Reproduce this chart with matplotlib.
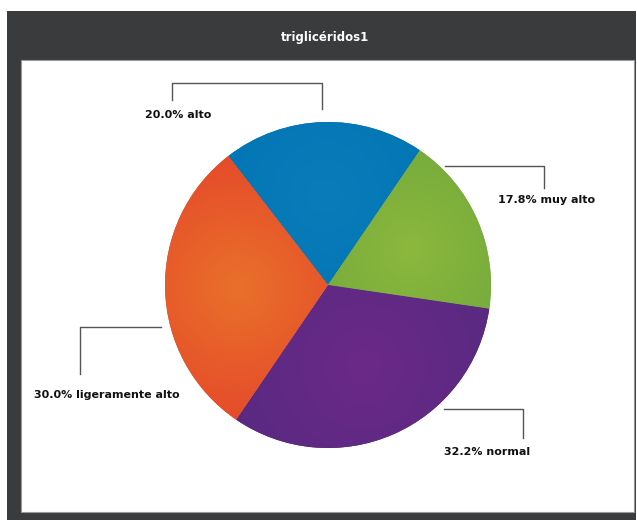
import numpy as np
import matplotlib
matplotlib.use("Agg")
import matplotlib.pyplot as plt
from matplotlib.patches import Rectangle
from matplotlib.colors import to_rgb

# Triglyceride categories, in clockwise order starting from the blue slice
categories = ["alto", "muy alto", "normal", "ligeramente alto"]
percentages = [20.0, 17.8, 32.2, 30.0]
inner_colors = ["#0a7cba", "#8cb83c", "#6b2a88", "#e9702a"]
outer_colors = ["#0073b2", "#6aa43d", "#56297f", "#e4432a"]
title = "triglicéridos1"

W, H = 637, 520
fig = plt.figure(figsize=(W / 100, H / 100), dpi=100)
ax = fig.add_axes([0, 0, 1, 1])
ax.set_xlim(0, W)
ax.set_ylim(0, H)
ax.set_aspect("equal")
ax.axis("off")


def py(y):
    """Convert a top-down pixel row into the axes' bottom-up y."""
    return H - y


# Dark window frame with a white content panel
ax.add_patch(Rectangle((7, py(520)), 629, 509, facecolor="#3a3b3d", edgecolor="none", zorder=0))
ax.add_patch(Rectangle((21, py(512)), 613, 452, facecolor="white", edgecolor="#9a9a9a",
                       linewidth=0.8, zorder=1))
ax.text(325, py(37), title, color="white", fontsize=8.5, fontweight="heavy",
        ha="center", va="center", zorder=5)

# Pie
cx, cy, R = 328, py(285), 163
wedges, _ = ax.pie(percentages, colors=outer_colors, startangle=127.7, counterclock=False,
                   center=(cx, cy), radius=R, frame=True,
                   wedgeprops=dict(linewidth=0, zorder=2))
ax.set_xlim(0, W)
ax.set_ylim(0, H)
ax.axis("off")

# Soft radial shading inside every slice
gx = np.linspace(cx - R, cx + R, 400)
gy = np.linspace(cy - R, cy + R, 400)
GX, GY = np.meshgrid(gx, gy)
for w, c0, c1 in zip(wedges, inner_colors, outer_colors):
    mid = np.deg2rad((w.theta1 + w.theta2) / 2)
    hx, hy = cx + 0.55 * R * np.cos(mid), cy + 0.55 * R * np.sin(mid)
    t = np.clip(np.hypot(GX - hx, GY - hy) / (1.0 * R), 0, 1)[..., None]
    img = np.array(to_rgb(c0)) * (1 - t) + np.array(to_rgb(c1)) * t
    im = ax.imshow(img, extent=(gx[0], gx[-1], gy[0], gy[-1]), origin="lower",
                   interpolation="bilinear", zorder=3)
    im.set_clip_path(w)

# Callout lines and labels
line_kw = dict(color="#555555", linewidth=1.0, zorder=4)
text_kw = dict(fontsize=8, fontweight="heavy", color="#111111", ha="center", va="center", zorder=5)
callouts = [
    # (polyline in pixel coords, label position)
    ([(322, 109), (322, 83), (172, 83), (172, 100)], (178, 115)),
    ([(445, 166), (544, 166), (544, 188)], (547, 200)),
    ([(523, 438), (523, 409), (444, 409)], (487, 452)),
    ([(161, 327), (80, 327), (80, 374)], (107, 395)),
]
for cat, pct, (pts, (lx, ly)) in zip(categories, percentages, callouts):
    xs = [p[0] for p in pts]
    ys = [py(p[1]) for p in pts]
    ax.plot(xs, ys, **line_kw)
    ax.text(lx, py(ly), f"{pct:.1f}% {cat}", **text_kw)

fig.savefig("out.png", dpi=100, facecolor="white")
